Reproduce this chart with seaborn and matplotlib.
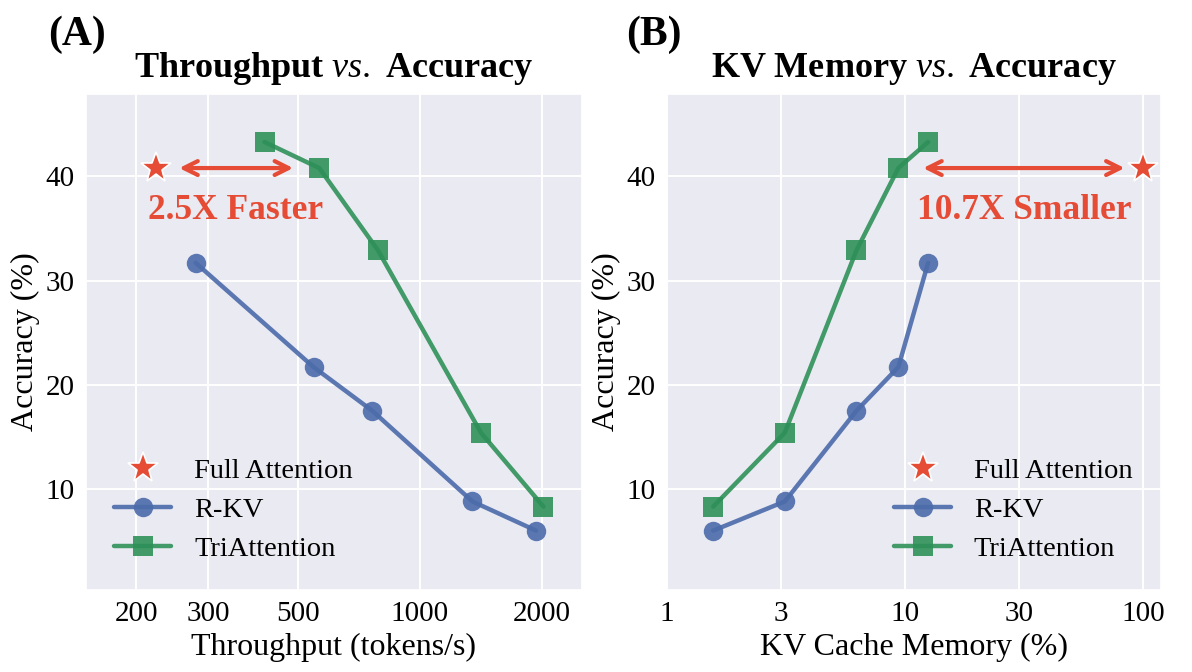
import numpy as np
import pandas as pd
import matplotlib
matplotlib.use('Agg')
import matplotlib.pyplot as plt
from matplotlib.lines import Line2D
from matplotlib.ticker import NullLocator
import seaborn as sns

# data (same point order in every array)
acc_rkv = [31.7, 21.7, 17.5, 8.8, 6.0]
acc_tri = [43.3, 40.8, 32.9, 15.4, 8.3]
thr_rkv = [280, 547, 764, 1349, 1937]
thr_tri = [414, 565, 789, 1416, 2020]
mem_budget = [12.5, 9.375, 6.25, 3.125, 1.5625]
acc_full = 40.8
thr_full = 223
mem_full = 100

c_rkv = '#4C6BAA'
c_tri = '#2E9158'
c_full = '#E54B35'

sns.set_theme(style='darkgrid')
plt.rcParams['font.family'] = ['Liberation Serif', 'DejaVu Serif']
plt.rcParams['mathtext.fontset'] = 'custom'
plt.rcParams['mathtext.rm'] = 'Liberation Serif'
plt.rcParams['mathtext.it'] = 'Liberation Serif:italic'
plt.rcParams['mathtext.bf'] = 'Liberation Serif:bold'
plt.rcParams['text.color'] = 'black'
plt.rcParams['axes.labelcolor'] = 'black'
plt.rcParams['xtick.color'] = 'black'
plt.rcParams['ytick.color'] = 'black'

fig = plt.figure(figsize=(11.92, 6.72), dpi=100)
axA = fig.add_axes([0.072, 0.122, 0.416, 0.738])
axB = fig.add_axes([0.5596, 0.122, 0.4144, 0.738])


def draw(ax, x_rkv, x_tri, x_full):
    df_r = pd.DataFrame({'x': x_rkv, 'y': acc_rkv})
    df_t = pd.DataFrame({'x': x_tri, 'y': acc_tri})
    sns.lineplot(data=df_r, x='x', y='y', ax=ax, color=c_rkv, marker='o',
                 markersize=14, linewidth=3.2, alpha=0.9, markeredgewidth=0, sort=False)
    sns.lineplot(data=df_t, x='x', y='y', ax=ax, color=c_tri, marker='s',
                 markersize=14, linewidth=3.2, alpha=0.9, markeredgewidth=0, sort=False)
    ax.plot([x_full], [acc_full], marker='*', color=c_full, markersize=23,
            markeredgecolor='white', markeredgewidth=1.2, linestyle='none', zorder=5)
    ax.set_xscale('log')
    ax.set_ylim(0.3, 47.9)
    ax.set_yticks([10, 20, 30, 40])
    ax.tick_params(labelsize=21, pad=2)
    ax.set_ylabel('Accuracy (%)', fontsize=23, labelpad=4)
    ax.xaxis.set_minor_locator(NullLocator())
    for g in ax.get_xgridlines() + ax.get_ygridlines():
        g.set_linewidth(1.4)


draw(axA, thr_rkv, thr_tri, thr_full)
axA.set_xlim(150, 2510)
axA.set_xticks([200, 300, 500, 1000, 2000])
axA.set_xticklabels(['200', '300', '500', '1000', '2000'])
axA.xaxis.set_minor_locator(NullLocator())
axA.set_xlabel('Throughput (tokens/s)', fontsize=23)
axA.set_title(r'$\mathbf{Throughput}$ $\mathit{vs.}$ $\mathbf{Accuracy}$', fontsize=26, pad=12)
axA.annotate('', xy=(495, acc_full), xytext=(251, acc_full),
             arrowprops=dict(arrowstyle='<->', color=c_full, lw=3, mutation_scale=25))
axA.text(352, 36.7, '2.5X Faster', color=c_full, fontsize=25.5, fontweight='bold',
         ha='center', va='center')

draw(axB, mem_budget, mem_budget, mem_full)
axB.set_xlim(1, 119)
axB.set_xticks([1, 3, 10, 30, 100])
axB.set_xticklabels(['1', '3', '10', '30', '100'])
axB.xaxis.set_minor_locator(NullLocator())
axB.set_xlabel('KV Cache Memory (%)', fontsize=23)
axB.set_title(r'$\mathbf{KV\ Memory}$ $\mathit{vs.}$ $\mathbf{Accuracy}$', fontsize=26, pad=12)
axB.annotate('', xy=(86, acc_full), xytext=(11.6, acc_full),
             arrowprops=dict(arrowstyle='<->', color=c_full, lw=3, mutation_scale=25))
axB.text(31.7, 36.7, '10.7X Smaller', color=c_full, fontsize=25.5, fontweight='bold',
         ha='center', va='center')

handles = [
    Line2D([], [], marker='*', color=c_full, markersize=23, markeredgecolor='white',
           markeredgewidth=1.2, linestyle='none', label='Full Attention'),
    Line2D([], [], marker='o', color=c_rkv, markersize=14, linewidth=3.2, alpha=0.9,
           markeredgewidth=0, label='R-KV'),
    Line2D([], [], marker='s', color=c_tri, markersize=14, linewidth=3.2, alpha=0.9,
           markeredgewidth=0, label='TriAttention'),
]
for ax, loc in [(axA, 'lower left'), (axB, 'lower right')]:
    ax.legend(handles=handles, loc=loc, fontsize=20.5, frameon=False,
              handlelength=2.0, borderaxespad=0.6, labelspacing=0.45)

fig.text(0.040, 0.948, '(A)', fontsize=30, fontweight='bold', va='center')
fig.text(0.525, 0.948, '(B)', fontsize=30, fontweight='bold', va='center')

fig.savefig('out.png', dpi=100)
